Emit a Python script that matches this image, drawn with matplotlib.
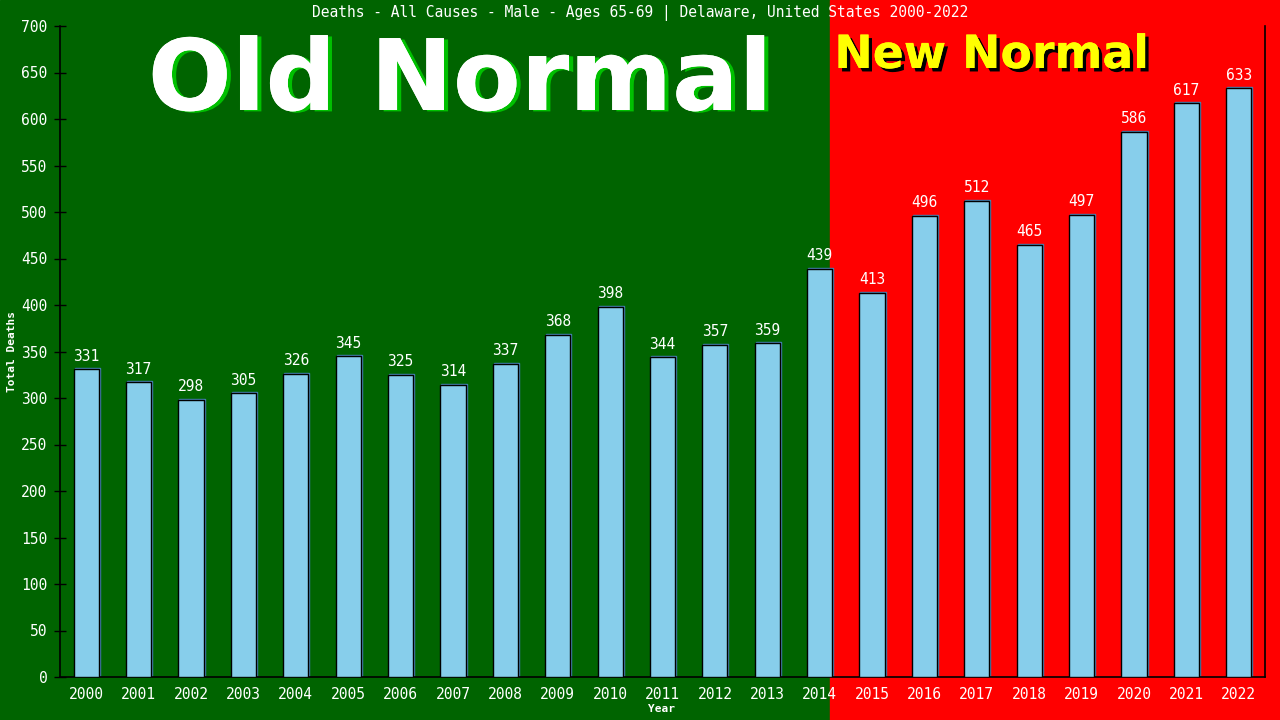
import matplotlib
matplotlib.use('Agg')
import matplotlib.pyplot as plt
import matplotlib.patheffects as pe
from matplotlib.patches import Rectangle
from matplotlib.transforms import ScaledTranslation

years = ['2000', '2001', '2002', '2003', '2004', '2005', '2006', '2007', '2008', '2009', '2010', '2011',
         '2012', '2013', '2014', '2015', '2016', '2017', '2018', '2019', '2020', '2021', '2022']
deaths = [331, 317, 298, 305, 326, 345, 325, 314, 337, 368, 398, 344,
          357, 359, 439, 413, 496, 512, 465, 497, 586, 617, 633]
yticks = list(range(0, 701, 50))

titulo = 'Deaths - All Causes - Male - Ages 65-69 | Delaware, United States 2000-2022'
mono = 'DejaVu Sans Mono'

fig = plt.figure(figsize=(12.8, 7.2), dpi=100)

# fundo verde / vermelho na figura toda
corte = 830 / 1280
fig.add_artist(Rectangle((0, 0), corte, 1, transform=fig.transFigure, color='#006400', zorder=-10))
fig.add_artist(Rectangle((corte, 0), 1 - corte, 1, transform=fig.transFigure, color='#ff0000', zorder=-10))

ax = fig.add_axes([60 / 1280, 43 / 720, 1205 / 1280, 651 / 720])
ax.patch.set_alpha(0)

x = list(range(len(years)))

# sombra das barras (1px para cima e para a direita)
sombra = ax.transData + ScaledTranslation(1 / 100, 1 / 100, fig.dpi_scale_trans)
som = ax.bar(x, deaths, width=0.48, color='none', edgecolor='#4682b4', linewidth=1.0, zorder=2)
for b in som:
    b.set_transform(sombra)
ax.bar(x, deaths, width=0.48, color='#87ceeb', edgecolor='black', linewidth=1.0, zorder=3)

for i in range(len(x)):
    ax.annotate(str(deaths[i]), (x[i], deaths[i]), xytext=(0, 4), textcoords='offset points',
                ha='center', va='bottom', color='white', fontsize=10.5, family=mono, zorder=4)

ax.set_xlim(-0.5, 22.5)
ax.set_ylim(0, 700)
ax.set_xticks(x)
ax.set_xticklabels(years)
ax.set_yticks(yticks)
ax.tick_params(axis='x', length=0, pad=7, colors='white', labelsize=10.5)
ax.tick_params(axis='y', direction='inout', length=8, width=1, color='black', pad=5,
               labelcolor='white', labelsize=10.5)
for lab in ax.get_xticklabels() + ax.get_yticklabels():
    lab.set_family(mono)

ax.spines['top'].set_visible(False)
for s in ['left', 'right', 'bottom']:
    ax.spines[s].set_color('black')
    ax.spines[s].set_linewidth(1.2)

fig.text(12 / 1280, 1 - 352 / 720, 'Total Deaths', rotation=90, ha='center', va='center',
         color='white', fontsize=8, fontweight='bold', family=mono)
fig.text(662 / 1280, 1 - 709 / 720, 'Year', ha='center', va='center',
         color='white', fontsize=8, fontweight='bold', family=mono)
fig.text(640 / 1280, 1 - 13 / 720, titulo, ha='center', va='center',
         color='white', fontsize=10.5, family=mono)

# textos grandes
fig.text(460 / 1280, 1 - 110 / 720, 'Old Normal', ha='center', va='baseline', color='white',
         fontsize=71, fontweight='bold', family='DejaVu Sans', zorder=5,
         path_effects=[pe.withSimplePatchShadow(offset=(3, -1), shadow_rgbFace='#00c000', alpha=1),
                       pe.Normal()])
fig.text(992 / 1280, 1 - 68 / 720, 'New Normal', ha='center', va='baseline', color='#ffff00',
         fontsize=33, fontweight='bold', family='DejaVu Sans', zorder=5,
         path_effects=[pe.withSimplePatchShadow(offset=(2.5, -2.5), shadow_rgbFace='black', alpha=1),
                       pe.Normal()])

plt.savefig('out.png', dpi=100)
